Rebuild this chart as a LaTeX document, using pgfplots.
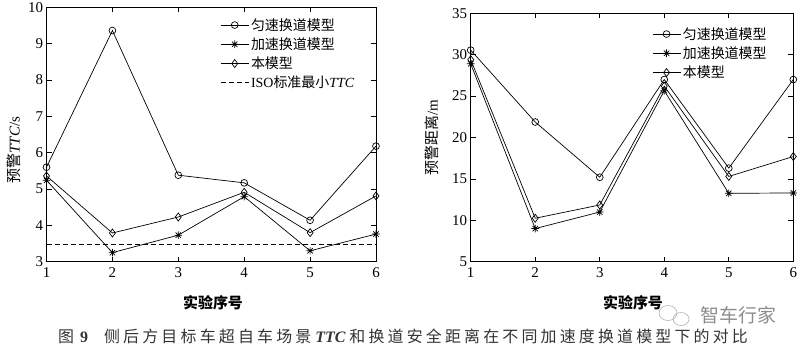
\documentclass[border=0pt]{standalone}
\usepackage{pgfplots}
\pgfplotsset{compat=1.18}
\usepackage{fontspec}
\setmainfont{Liberation Serif}
\newfontfamily\tnr{Liberation Serif}
\newfontfamily\cjk{Noto Sans CJK SC}
\newfontfamily\capcjk[LetterSpace=20]{Noto Sans CJK SC}
\pgfdeclareplotmark{mstar}{%
  \pgfpathmoveto{\pgfqpoint{-\pgfplotmarksize}{0pt}}\pgfpathlineto{\pgfqpoint{\pgfplotmarksize}{0pt}}%
  \pgfpathmoveto{\pgfqpoint{0pt}{-\pgfplotmarksize}}\pgfpathlineto{\pgfqpoint{0pt}{\pgfplotmarksize}}%
  \pgfpathmoveto{\pgfqpoint{-0.707\pgfplotmarksize}{-0.707\pgfplotmarksize}}\pgfpathlineto{\pgfqpoint{0.707\pgfplotmarksize}{0.707\pgfplotmarksize}}%
  \pgfpathmoveto{\pgfqpoint{-0.707\pgfplotmarksize}{0.707\pgfplotmarksize}}\pgfpathlineto{\pgfqpoint{0.707\pgfplotmarksize}{-0.707\pgfplotmarksize}}%
  \pgfusepathqstroke}
\pgfplotsset{
  mystyle/.style={
    scale only axis, anchor=south west,
    xmin=1, xmax=6, xtick={1,...,6},
    tick align=inside, tick pos=both, major tick length=5bp,
    axis line style={line width=0.8pt},
    every tick/.style={line width=0.7pt, black},
    /pgf/number format/assume math mode=true,
    ticklabel style={font=\fontsize{15}{15}\selectfont\tnr},
    xticklabel style={yshift=-2bp},
    legend style={draw=none, fill=none, font=\fontsize{14}{15}\selectfont\cjk, row sep=2bp, inner sep=0pt, cells={anchor=west}},
    legend cell align=left,
    legend image code/.code={\draw[mark repeat=2,mark phase=2] plot coordinates {(0bp,0bp)(14bp,0bp)(28bp,0bp)};},
  },
  c1/.style={black, line width=0.7pt, mark=o, mark size=3.4bp, mark options={solid, fill=white}},
  c2/.style={black, line width=0.7pt, mark=mstar, mark size=3.8bp, mark options={solid}},
  c3/.style={black, line width=0.7pt, mark=diamond, mark size=4bp, mark options={solid, fill=white}},
}
\begin{document}
\begin{tikzpicture}[x=1bp,y=1bp]
\useasboundingbox (0,0) rectangle (800,351);
\begin{axis}[mystyle, at={(46.5bp,89.3bp)}, width=329.5bp, height=254.4bp,
  ymin=3, ymax=10, ytick={3,...,10},
  legend style={at={(0.527,0.965)}, anchor=north west}]
\addplot[c1] coordinates {(1,5.6)(2,9.36)(3,5.38)(4,5.17)(5,4.14)(6,6.18)};
\addlegendentry{匀速换道模型}
\addplot[c2] coordinates {(1,5.24)(2,3.25)(3,3.73)(4,4.79)(5,3.30)(6,3.76)};
\addlegendentry{加速换道模型}
\addplot[c3] coordinates {(1,5.36)(2,3.79)(3,4.23)(4,4.91)(5,3.80)(6,4.81)};
\addlegendentry{本模型}
\addplot[black, line width=0.7pt, dash pattern=on 5bp off 3bp] coordinates {(1,3.49)(6,3.49)};
\addlegendentry{{\tnr ISO}标准最小{\tnr\itshape TTC}}
\end{axis}
\begin{axis}[mystyle, at={(470.7bp,89.3bp)}, width=322.6bp, height=248.4bp,
  ymin=5, ymax=35, ytick={5,10,...,35},
  legend style={at={(0.562,0.952)}, anchor=north west}]
\addplot[c1] coordinates {(1,30.55)(2,21.87)(3,15.2)(4,27.0)(5,16.3)(6,27.0)};
\addlegendentry{匀速换道模型}
\addplot[c2] coordinates {(1,28.9)(2,9.0)(3,11.0)(4,25.65)(5,13.26)(6,13.3)};
\addlegendentry{加速换道模型}
\addplot[c3] coordinates {(1,29.4)(2,10.25)(3,11.85)(4,26.2)(5,15.3)(6,17.7)};
\addlegendentry{本模型}
\end{axis}
% axis labels
\node[rotate=90, font=\fontsize{15}{15}\selectfont] at (14,201) {{\cjk 预警}{\tnr\itshape TTC}{\tnr /s}};
\node[rotate=90, font=\fontsize{15}{15}\selectfont] at (432,213.5) {{\cjk 预警距离}{\tnr /m}};
\node[font=\fontsize{15}{15}\selectfont\cjk\bfseries] at (213,48.5) {实验序号};
\node[font=\fontsize{15}{15}\selectfont\cjk\bfseries] at (633,48.5) {实验序号};
% watermark
\node[font=\fontsize{19}{19}\selectfont\cjk, text=black!45, anchor=west] at (697,36) {智车行家};
\draw[black!35, line width=0.5pt] (668,38) ellipse (9 and 7.5);
\draw[black!35, line width=0.5pt] (681,32) ellipse (8 and 6.5);
% caption
\node[anchor=west, inner sep=0pt, text=black!80, font=\fontsize{16}{16}\selectfont] at (58,15)
  {{\capcjk 图}\hspace{6bp}{\tnr\bfseries 9}\hspace{16bp}{\capcjk 侧后方目标车超自车场景}\ {\tnr\bfseries\itshape TTC}\ {\capcjk 和换道安全距离在不同加速度换道模型下的对比}};
\end{tikzpicture}
\end{document}
